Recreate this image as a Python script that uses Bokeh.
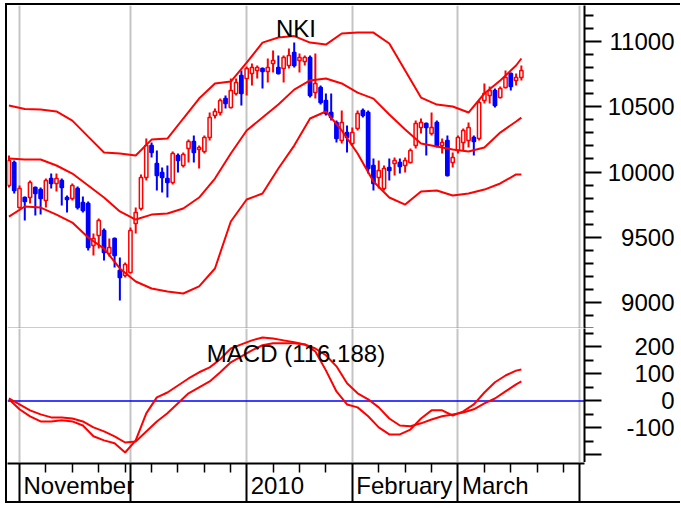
import pandas as pd
from bokeh.plotting import figure
from bokeh.models import Range1d, FixedTicker, Grid, Span, Label, ColumnDataSource
from bokeh.layouts import column, row
from bokeh.embed import file_html
from bokeh.resources import INLINE
from bokeh.core.properties import value

# ---------------- data ----------------
axis_start, axis_end = "2009-10-29", "2010-04-01"
holidays = ["2009-12-31", "2010-01-01"]

opens = [9896, 10073, 9727, 9804, 9804, 9881, 9865, 9781, 9950, 9912,
         9935, 9804, 9796, 9873, 9766, 9758, 9435, 9512, 9551, 9374,
         9489, 9243, 9205, 9228, 9604, 9720, 9958, 10203, 10065, 9996,
         9950, 9919, 10127, 10050, 10180, 10234, 10173, 10157, 10265, 10434,
         10457, 10564, 10495, 10603, 10741, 10718, 10756, 10779, 10795, 10772,
         10833, 10802, 10795, 10818, 10918, 10856, 10849, 10879, 10610, 10649,
         10549, 10457, 10380, 10242, 10303, 10219, 10334, 10472, 10457, 10050,
         9958, 9873, 10034, 10065, 10073, 10050, 10073, 10203, 10342, 10372,
         10296, 10380, 10203, 10242, 10073, 10165, 10226, 10242, 10265, 10257,
         10549, 10587, 10626, 10572, 10649, 10756, 10703, 10726]
highs = [10127, 10088, 9896, 9812, 9935, 9889, 9881, 9950, 9988, 9988,
         9950, 9819, 9912, 9889, 9812, 9773, 9528, 9643, 9566, 9489,
         9497, 9343, 9305, 9574, 9727, 9981, 10257, 10226, 10165, 10034,
         10050, 10157, 10142, 10150, 10249, 10280, 10203, 10280, 10457, 10488,
         10564, 10587, 10718, 10718, 10779, 10810, 10833, 10818, 10802, 10872,
         10933, 10895, 10895, 10948, 10994, 10910, 10895, 10895, 10910, 10664,
         10603, 10603, 10395, 10472, 10357, 10342, 10472, 10488, 10472, 10104,
         10088, 10050, 10104, 10111, 10104, 10111, 10180, 10395, 10411, 10380,
         10457, 10395, 10257, 10280, 10150, 10280, 10334, 10380, 10280, 10549,
         10680, 10656, 10641, 10656, 10779, 10764, 10756, 10818]
lows = [9881, 9835, 9720, 9627, 9758, 9666, 9673, 9727, 9873, 9850,
        9743, 9689, 9781, 9712, 9689, 9397, 9359, 9412, 9320, 9351,
        9266, 9013, 9190, 9220, 9528, 9704, 9935, 10111, 9858, 9842,
        9804, 9904, 9996, 10034, 10073, 10073, 10027, 10142, 10242, 10411,
        10434, 10488, 10488, 10587, 10511, 10587, 10664, 10718, 10641, 10687,
        10764, 10749, 10687, 10795, 10802, 10764, 10818, 10572, 10564, 10518,
        10434, 10395, 10226, 10219, 10150, 10203, 10319, 10418, 9988, 9858,
        9873, 9858, 9935, 9973, 9988, 9996, 10065, 10180, 10296, 10127,
        10280, 10188, 10142, 9965, 10034, 10142, 10165, 10188, 10127, 10242,
        10526, 10526, 10495, 10564, 10641, 10626, 10664, 10703]
closes = [10088, 9858, 9873, 9773, 9919, 9835, 9796, 9935, 9912, 9950,
          9881, 9789, 9896, 9727, 9704, 9420, 9489, 9627, 9382, 9420,
          9359, 9190, 9290, 9551, 9689, 9958, 10203, 10150, 9973, 9958,
          9919, 10142, 10088, 10134, 10234, 10150, 10188, 10265, 10418, 10465,
          10549, 10526, 10626, 10687, 10603, 10795, 10802, 10802, 10772, 10802,
          10856, 10756, 10879, 10895, 10818, 10879, 10879, 10587, 10680, 10534,
          10449, 10418, 10257, 10380, 10265, 10303, 10449, 10434, 10027, 9912,
          10011, 10027, 10011, 10088, 10042, 10088, 10165, 10372, 10380, 10342,
          10342, 10203, 10226, 9973, 10111, 10265, 10319, 10342, 10234, 10534,
          10603, 10626, 10511, 10641, 10726, 10656, 10726, 10779]

# Bollinger bands, read every third trading day
band_idx = [0, 3, 6, 9, 12, 15, 18, 21, 24, 27, 30, 33, 36, 39, 42, 45, 48,
            51, 54, 57, 60, 63, 66, 69, 72, 75, 78, 81, 84, 87, 90, 93, 96, 97]
bb_upper = [10511, 10484, 10480, 10465, 10395, 10272, 10150, 10142, 10127, 10249,
            10257, 10411, 10564, 10680, 10695, 10841, 10994, 11033, 11044, 10994,
            10979, 11064, 11071, 11071, 10987, 10779, 10572, 10518, 10503, 10457,
            10603, 10703, 10818, 10872]
bb_mid = [10104, 10096, 10096, 10050, 9988, 9896, 9804, 9697, 9635, 9673,
          9681, 9720, 9804, 9950, 10142, 10319, 10418, 10518, 10633, 10703,
          10718, 10680, 10610, 10564, 10442, 10326, 10219, 10196, 10173, 10157,
          10188, 10303, 10388, 10418]
bb_lower = [9658, 9735, 9727, 9673, 9612, 9497, 9412, 9259, 9159, 9105,
            9082, 9067, 9121, 9259, 9620, 9789, 9835, 10027, 10203, 10411,
            10465, 10319, 10142, 9927, 9804, 9750, 9850, 9858, 9819, 9835,
            9865, 9912, 9981, 9981]

# MACD, read every second trading day
macd_idx = [0, 2, 4, 6, 8, 10, 12, 14, 16, 18, 20, 22, 24, 26, 28, 30, 32, 34,
            36, 38, 40, 42, 44, 46, 48, 50, 52, 54, 56, 58, 60, 62, 64, 66, 68,
            70, 72, 74, 76, 78, 80, 82, 84, 86, 88, 90, 92, 94, 96, 97]
macd_line = [6, -31, -57, -76, -76, -72, -76, -91, -131, -146, -157, -191, -146,
             -46, 13, 31, 57, 83, 106, 124, 154, 194, 209, 224, 235, 231, 224,
             217, 209, 183, 113, 35, -13, -24, -57, -98, -124, -124, -106, -65,
             -35, -35, -54, -39, -13, 31, 69, 94, 112, 116]
macd_signal = [9, -13, -35, -50, -61, -61, -65, -76, -98, -113, -131, -154, -150,
               -113, -76, -46, -9, 28, 50, 72, 106, 143, 165, 187, 206, 213, 213,
               213, 209, 194, 169, 128, 65, 28, 6, -24, -65, -91, -94, -83, -69,
               -57, -50, -43, -31, -9, 9, 35, 61, 72]

price_ticks = [9000, 9500, 10000, 10500, 11000]
price_labels = ["9000", "9500", "10000", "10500", "11000"]
price_minor = [8800, 8900, 9100, 9200, 9300, 9400, 9600, 9700, 9800, 9900,
               10100, 10200, 10300, 10400, 10600, 10700, 10800, 10900, 11100, 11200]
macd_ticks = [-200, -100, 0, 100, 200]
macd_minor = [-250, -150, -50, 50, 150, 250]
macd_label_vals = [-100, 0, 100, 200]
macd_label_texts = ["-100", "0", "100", "200"]
label_months = ["2009-11", "2010-01", "2010-02", "2010-03"]
label_texts = ["November", "2010", "February", "March"]
title_text = "NKI"
macd_title = "MACD (116.188)"

# ---------------- calendar ----------------
cal = pd.bdate_range(axis_start, axis_end)
cal = cal[~cal.isin(pd.to_datetime(holidays))]
month_idx = [i for i in range(1, len(cal)) if cal[i].month != cal[i - 1].month]
week_idx = [i for i in range(len(cal)) if cal[i].weekday() == 0 and i not in month_idx]
label_idx = [next(i for i in month_idx if cal[i].strftime("%Y-%m") == m) for m in label_months]

# ---------------- layout constants ----------------
FW, FH1, FH2, FH3 = 577, 323, 134, 38   # frame widths / heights
TICKS_W, LABEL_W = 18, 78               # right tick band, right label band
X_LO, X_HI = -0.27, 108.95
P_LO, P_HI = 8798, 11279
M_LO, M_HI = -228, 268
FONT = "Liberation Sans"
FS = "24px"
RED, BLUE, GRIDC = "#ff0000", "#0000ff", "#c4c4c4"

xr = Range1d(X_LO, X_HI)
COMMON = dict(output_backend="svg", toolbar_location=None, outline_line_color=None,
              background_fill_color="white", border_fill_color="white",
              min_border_left=0, min_border_top=0, min_border_bottom=0)


def panel(fh, yr):
    p = figure(frame_width=FW, frame_height=fh, x_range=xr, y_range=yr,
               x_axis_location=None, y_axis_location="right",
               min_border_right=TICKS_W, **COMMON)
    p.grid.visible = False
    p.add_layout(Grid(dimension=0, ticker=FixedTicker(ticks=month_idx),
                      grid_line_color=GRIDC, grid_line_width=2))
    return p


def label_band(fh, yr):
    q = figure(frame_width=LABEL_W, frame_height=fh, x_range=Range1d(0, LABEL_W), y_range=yr,
               x_axis_location=None, y_axis_location=None, min_border_right=0, **COMMON)
    q.grid.visible = False
    return q


def style_axis(ax, ticks, minor, tick_out, minor_out, tick_in=0, minor_in=0, minor_w=2):
    ax.ticker = FixedTicker(ticks=ticks, minor_ticks=minor)
    ax.major_label_overrides = {t: "" for t in ticks}
    ax.major_label_text_font_size = "0px"
    ax.major_label_standoff = 0
    ax.axis_line_color = "black"
    ax.axis_line_width = 2
    ax.major_tick_out = tick_out
    ax.major_tick_in = tick_in
    ax.major_tick_line_width = 2
    ax.minor_tick_out = minor_out
    ax.minor_tick_in = minor_in
    ax.minor_tick_line_width = minor_w


def title_label(p, y, s):
    p.add_layout(Label(x=(X_LO + X_HI) / 2, y=y, text=s, text_align="center",
                       text_baseline="middle", text_font=FONT, text_font_size=FS,
                       text_color="black"))


def tick_labels(q, vals, texts):
    q.text(x=LABEL_W - 6, y=vals, text=texts, text_align="right", text_baseline="middle",
           text_font=value(FONT), text_font_size=value(FS), text_color="black")


# ---------------- price panel ----------------
p1 = panel(FH1, Range1d(P_LO, P_HI))
style_axis(p1.yaxis[0], price_ticks, price_minor, 17, 9)

idx = list(range(len(opens)))
up = [c >= o for o, c in zip(opens, closes)]
src = ColumnDataSource(dict(
    x=idx, high=highs, low=lows,
    top=[max(o, c) for o, c in zip(opens, closes)],
    bottom=[min(o, c) for o, c in zip(opens, closes)],
    color=[RED if u else BLUE for u in up],
    fill=["white" if u else BLUE for u in up],
))
p1.segment(x0="x", y0="low", x1="x", y1="high", line_color="color", line_width=2, source=src)
p1.vbar(x="x", width=0.62, top="top", bottom="bottom", fill_color="fill",
        line_color="color", line_width=1.5, source=src)
for band in (bb_upper, bb_mid, bb_lower):
    p1.line(band_idx, band, line_color=RED, line_width=2)
p1.add_layout(Span(location=P_LO, dimension="width", line_color="#999999", line_width=2))
title_label(p1, P_HI - 22.5 * (P_HI - P_LO) / FH1, title_text)

r1 = label_band(FH1, p1.y_range)
tick_labels(r1, price_ticks, price_labels)

# ---------------- MACD panel ----------------
p2 = panel(FH2, Range1d(M_LO, M_HI))
style_axis(p2.yaxis[0], macd_ticks, macd_minor, 17, 9)
p2.add_layout(Span(location=0, dimension="width", line_color=BLUE, line_width=1.5, level="underlay"))
p2.line(macd_idx, macd_line, line_color=RED, line_width=2)
p2.line(macd_idx, macd_signal, line_color=RED, line_width=2)
title_label(p2, M_HI - 24.5 * (M_HI - M_LO) / FH2, macd_title)

r2 = label_band(FH2, p2.y_range)
tick_labels(r2, macd_label_vals, macd_label_texts)

# ---------------- date strip ----------------
s = figure(frame_width=FW, frame_height=FH3, x_range=xr, y_range=Range1d(0, FH3),
           x_axis_location="above", y_axis_location=None,
           min_border_right=TICKS_W + LABEL_W,
           **{**COMMON, "min_border_top": 1})
s.grid.visible = False
style_axis(s.xaxis[0], month_idx, week_idx, 0, 0, tick_in=FH3, minor_in=9, minor_w=1.5)
s.text(x=label_idx, y=FH3 - 22, text=label_texts, x_offset=4, text_align="left",
       text_baseline="middle", text_font=value(FONT), text_font_size=value(FS),
       text_color="black")

layout = column(row(p1, r1), row(p2, r2), s,
                styles={"margin-left": "5px", "margin-top": "3px",
                        "border-top": "2px solid black",
                        "border-left": "2px solid black",
                        "border-bottom": "2px solid black"})

open("out.html", "w").write(file_html(layout, INLINE))
